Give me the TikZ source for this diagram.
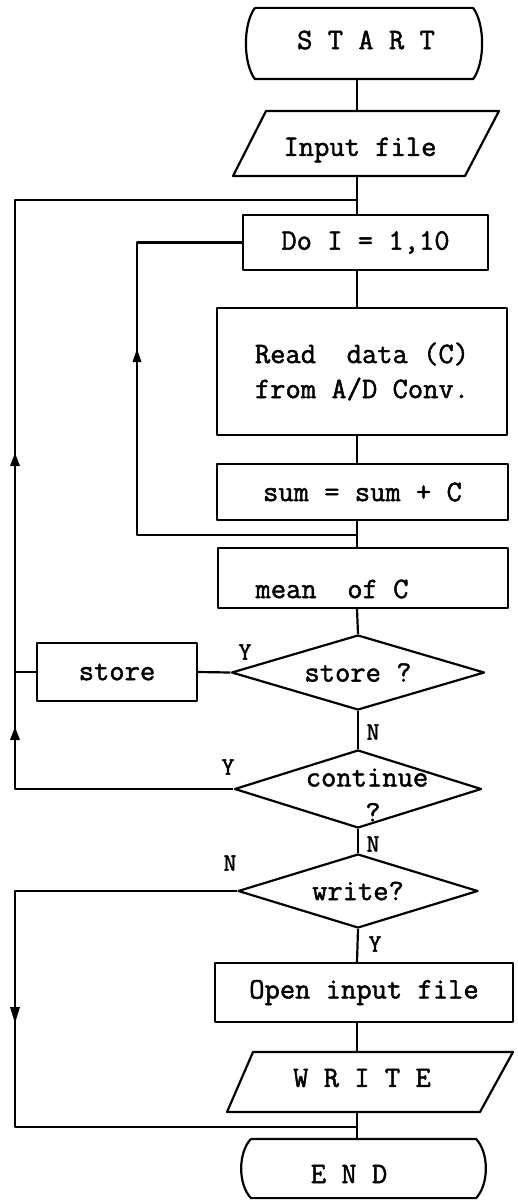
\documentclass[tikz,border=0pt]{standalone}
\usepackage{fontspec}
\newfontfamily\twfont{Latin Modern Mono}[FakeBold=1.6]
\usetikzlibrary{shapes.geometric}
\begin{document}
\begin{tikzpicture}[x=1pt,y=-1pt, line width=2.2pt, line join=round,
  txt/.style={font=\twfont\fontsize{29.7}{35}\selectfont, inner sep=0pt, align=left},
  lbl/.style={font=\twfont\fontsize{25}{26}\selectfont, inner sep=0pt},
  box/.style={draw, rectangle, txt},
  dia/.style={draw, diamond, aspect=3, txt},
  frame/.style={inner sep=0pt}]
\useasboundingbox (0,0) rectangle (518,1201);
\coordinate (mx) at (357,0);
\coordinate (ox) at (15,0);
\coordinate (ix) at (137,0);

% START terminal
\node[frame, minimum width=216, minimum height=69] (start) at (364,43.5) {};
\draw (start.north west) -- (start.north east)
  .. controls +(12,16) and +(12,-16) .. (start.south east) -- (start.south west)
  .. controls +(-12,-16) and +(-12,16) .. (start.north west);
\node[txt] (starttxt) at (366,40) {S T A R T};

% Input file
\node[frame, minimum width=200, minimum height=65] (inp) at (366,143.5) {};
\draw (266,111) -- (499,111) -- (465,176) -- (233,176) -- cycle;
\node[txt] (inptxt) at (360,150) {Input file};

\node[box, minimum width=245, minimum height=55] (do) at (365.5,242.5) {Do I = 1,10};
\node[box, minimum width=290, minimum height=127] (read) at (362,371.5) {Read\ \ data (C)\\from A/D Conv.};
\node[box, minimum width=291, minimum height=56] (sum) at (362.5,492) {sum = sum + C};
\node[box, minimum width=290, minimum height=60] (mean) at (363,578) {};
\node[txt] (meantxt) at (332,589) {mean\ \ of C};

\node[dia, minimum width=253, minimum height=75] (qstore) at (358,672.5) {store ?};
\node[box, minimum width=160, minimum height=58] (stbox) at (117,672) {store};

\node[dia, minimum width=247, minimum height=78] (qcont) at (358,789) {};
\node[txt, align=center] (conttxt) at (367,795) {continue\\\hspace*{12pt}?};

\node[dia, minimum width=240, minimum height=74] (qwr) at (358,891) {write?};

\node[box, minimum width=298, minimum height=59] (open) at (364,992.5) {Open input file};

% WRITE
\node[frame, minimum width=200, minimum height=60] (wr) at (370,1082) {};
\draw (253,1052) -- (513,1052) -- (480,1112) -- (227,1112) -- cycle;
\node[txt] (wrtxt) at (362,1078) {W R I T E};

% END terminal
\node[frame, minimum width=223, minimum height=57] (endn) at (363.5,1168.5) {};
\draw (endn.north west) -- (endn.north east)
  .. controls +(13,14) and +(13,-14) .. (endn.south east) -- (endn.south west)
  .. controls +(-13,-14) and +(-13,14) .. (endn.north west);
\node[txt] (endtxt) at (349,1174) {E N D};

% main connectors
\coordinate (j1) at (357,200);
\coordinate (j2) at (357,535);
\coordinate (j3) at (357,1127);
\draw (start.south -| mx) -- (inp.north -| mx);
\draw (inp.south -| mx) -- (do.north -| mx);
\draw (do.south -| mx) -- (read.north -| mx);
\draw (read.south -| mx) -- (sum.north -| mx);
\draw (sum.south -| mx) -- (mean.north -| mx);
\draw (mean.south -| mx) -- (qstore.north);
\draw (qstore.south) -- (qcont.north);
\draw (qcont.south) -- (qwr.north);
\draw (qwr.south) -- (open.north -| mx);
\draw (open.south -| mx) -- (wr.north -| mx);
\draw (wr.south -| mx) -- (endn.north -| mx);

% inner loop
\coordinate (ai) at (137,349);
\draw (j2) -- (j2 -| ix) -- (do.west -| ix) -- (do.west);
\fill (ai) -- ++(4.5,13) -- ++(-9,0) -- cycle;

% store branch
\draw (qstore.west) -- (stbox.east);
\draw (stbox.west) -- (stbox.west -| ox);

% outer loop
\coordinate (a1) at (15,727);
\coordinate (a2) at (15,453);
\draw (qcont.west) -- (qcont.west -| ox) -- (j1 -| ox) -- (j1);
\fill (a1) -- ++(5,13) -- ++(-10,0) -- cycle;
\fill (a2) -- ++(5,13) -- ++(-10,0) -- cycle;

% write N branch
\coordinate (ad) at (15,1023);
\draw (qwr.west) -- (qwr.west -| ox) -- (j3 -| ox) -- (j3);
\fill (ad) -- ++(5,-16) -- ++(-10,0) -- cycle;

% labels
\node[lbl] (ys) at (245,652) {Y};
\node[lbl] (ns) at (373,732) {N};
\node[lbl] (yc) at (228,767) {Y};
\node[lbl] (nc) at (373,844) {N};
\node[lbl] (nw) at (230,863) {N};
\node[lbl] (yw) at (375,944) {Y};
\end{tikzpicture}
\end{document}
